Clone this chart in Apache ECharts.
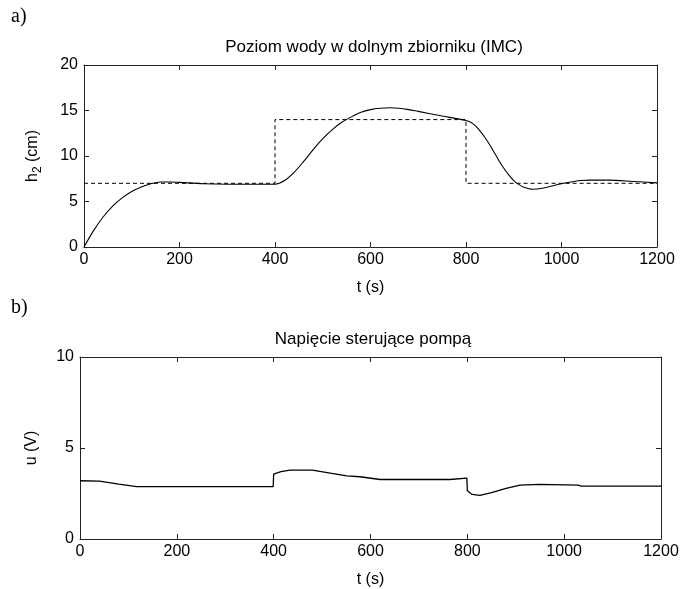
<!DOCTYPE html>
<html>
<head>
<meta charset="utf-8">
<script src="https://cdn.jsdelivr.net/npm/echarts@6/dist/echarts.min.js"></script>
<style>
html,body{margin:0;padding:0;background:#fff;}
#chart{width:695px;height:589px;}
</style>
</head>
<body>
<div id="chart"></div>
<script>
// ---- data (a) water level in lower tank ----
const tH2 = [0,20,40,60,80,100,120,140,160,180,200,250,300,350,400,420,440,460,480,500,520,540,560,580,600,620,640,660,680,700,750,800,810,820,830,840,850,860,870,880,890,900,910,920,940,960,980,1000,1020,1040,1060,1100,1150,1200];
const h2   = [0,1.8,3.3,4.5,5.4,6.1,6.6,6.95,7.15,7.15,7.1,6.95,6.9,6.9,6.9,7.3,8.2,9.4,10.7,11.9,12.9,13.7,14.3,14.8,15.1,15.25,15.3,15.25,15.1,14.9,14.4,13.9,13.7,13.3,12.7,12.0,11.2,10.3,9.4,8.6,7.9,7.3,6.9,6.6,6.35,6.45,6.7,6.95,7.15,7.3,7.35,7.35,7.2,7.05];
const tSet = [0,400,400,800,800,1200];
const hSet = [7,7,14,14,7,7];
// ---- data (b) pump control voltage ----
const tU = [0,40,80,117,200,300,399,400,415,434,480,520,551,578,620,700,764,766,799,800,810,826,850,880,909,950,1029,1035,1100,1200];
const u  = [3.2,3.18,3.02,2.88,2.88,2.88,2.88,3.57,3.7,3.78,3.78,3.6,3.47,3.42,3.27,3.27,3.27,3.35,3.35,2.65,2.45,2.4,2.55,2.78,2.96,3.0,2.96,2.9,2.9,2.9];
// ---- axis ticks ----
const xTicks = {min:0, max:1200, interval:200};
const yTicksA = {min:0, max:20, interval:5};
const yTicksB = {min:0, max:10, interval:5};
const titleA = 'Poziom wody w dolnym zbiorniku (IMC)';
const titleB = 'Napięcie sterujące pompą';

const pairs = (xs, ys) => xs.map((x, i) => [x, ys[i]]);
const FONT = 'Liberation Sans, Arial, sans-serif';
const SERIF = 'Liberation Serif, Times New Roman, serif';
const lineCol = '#222';
const plain = v => String(v);

function xAx(grid, pos, labels, name) {
  return Object.assign({
    type:'value', gridIndex:grid, position:pos,
    axisLine:{show:true, onZero:false, lineStyle:{color:lineCol, width:1}},
    axisTick:{show:true, inside:true, length:5, lineStyle:{color:lineCol}},
    axisLabel:{show:labels, color:'#000', fontSize:16, fontFamily:FONT, margin:5, formatter:plain},
    splitLine:{show:false},
    name: name || '', nameLocation:'middle', nameGap:33,
    nameTextStyle:{color:'#000', fontSize:16, fontFamily:FONT}
  }, xTicks);
}
function yAx(grid, pos, labels, ticks, name, rich) {
  return Object.assign({
    type:'value', gridIndex:grid, position:pos,
    axisLine:{show:true, onZero:false, lineStyle:{color:lineCol, width:1}},
    axisTick:{show:true, inside:true, length:5, lineStyle:{color:lineCol}},
    axisLabel:{show:labels, color:'#000', fontSize:16, fontFamily:FONT, margin:6, formatter:plain},
    splitLine:{show:false},
    name: name || '', nameLocation:'middle', nameGap:40, nameRotate:90,
    nameTextStyle:{color:'#000', fontSize:16, fontFamily:FONT, rich: rich || {}}
  }, ticks);
}

const chart = echarts.init(document.getElementById('chart'), null, {renderer:'canvas'});
chart.setOption({
  animation:false,
  backgroundColor:'#fff',
  title:[
    {text:titleA, left:369, top:34, textAlign:'center',
     textStyle:{fontSize:17, fontWeight:'normal', color:'#000', fontFamily:FONT}},
    {text:titleB, left:368, top:326, textAlign:'center',
     textStyle:{fontSize:17, fontWeight:'normal', color:'#000', fontFamily:FONT}}
  ],
  graphic:[
    {type:'text', left:11, top:7, style:{text:'a)', fontSize:20, fontFamily:SERIF, fill:'#000'}},
    {type:'text', left:11, top:298, style:{text:'b)', fontSize:20, fontFamily:SERIF, fill:'#000'}}
  ],
  grid:[
    {left:84, top:65, width:573, height:182},
    {left:80, top:357, width:581, height:185}
  ],
  xAxis:[
    xAx(0,'bottom',true,'t (s)'),
    xAx(0,'top',false),
    xAx(1,'bottom',true,'t (s)'),
    xAx(1,'top',false)
  ],
  yAxis:[
    yAx(0,'left',true,yTicksA,'{a|h}{s|2}{a| (cm)}',{a:{fontSize:16,fontFamily:FONT,color:'#000'}, s:{fontSize:12,fontFamily:FONT,color:'#000',padding:[10,0,0,0]}}),
    yAx(0,'right',false,yTicksA),
    yAx(1,'left',true,yTicksB,'u (V)'),
    yAx(1,'right',false,yTicksB)
  ],
  series:[
    {type:'line', xAxisIndex:0, yAxisIndex:0, data:pairs(tSet,hSet), showSymbol:false,
     lineStyle:{color:'#000', width:1, type:[4,3]}},
    {type:'line', xAxisIndex:0, yAxisIndex:0, data:pairs(tH2,h2), showSymbol:false, smooth:0.3,
     lineStyle:{color:'#000', width:1.1}},
    {type:'line', xAxisIndex:2, yAxisIndex:2, data:pairs(tU,u), showSymbol:false,
     lineStyle:{color:'#000', width:1.3}}
  ]
});
</script>
</body>
</html>
